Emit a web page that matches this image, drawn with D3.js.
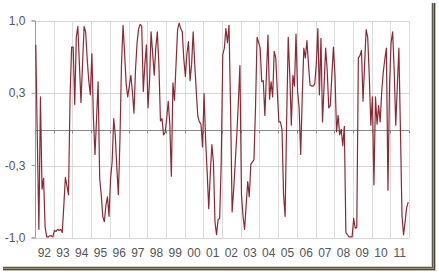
<!DOCTYPE html>
<html>
<head>
<meta charset="utf-8">
<script src="https://cdn.jsdelivr.net/npm/d3@7"></script>
<style>
  body { margin: 0; background: #fff; }
  svg { display: block; font-family: "Liberation Sans", Arial, sans-serif; }
</style>
</head>
<body>
<div id="vis"></div>
<script>
const WIDTH = 439;
const HEIGHT = 276;

const MARGIN = { top: 21, bottom: 38, left: 35, right: 30 };

// etiquetas de años (eje x, una categoría por año)
const yearLabels = ["92", "93", "94", "95", "96", "97", "98", "99", "00", "01",
  "02", "03", "04", "05", "06", "07", "08", "09", "10", "11"];

// ticks del eje y
const yTickValues = [-1, -1 / 3, 1 / 3, 1];
const yTickLabels = ["-1,0", "-0,3", "0,3", "1,0"];

// serie mensual 1992-2011
const values = [
  0.78, -0.10, -0.92, 0.30, -0.55, -0.45, -0.90, -0.99, -0.99, -0.98, -0.98, -0.99,
  -0.93, -0.94, -0.92, -0.93, -0.92, -0.95, -0.70, -0.44, -0.52, -0.60, 0.30, 0.76,
  0.76, 0.23, 0.85, 0.95, 0.60, 0.25, 0.60, 0.95, 0.90, 0.65, 0.45, 0.32,
  0.70, 0.10, -0.23, 0.10, 0.44, -0.45, -0.60, -0.80, -0.85, -0.70, -0.62, -0.80,
  -0.45, -0.30, 0.10, -0.05, -0.35, -0.60, -0.10, 0.60, 0.96, 0.70, 0.42, 0.30,
  0.40, 0.50, 0.35, 0.15, 0.55, 0.80, 0.93, 0.97, 0.95, 0.35, 0.60, 0.78,
  0.20, 0.45, 0.90, 0.70, 0.50, 0.75, 0.90, 0.60, 0.08, 0.10, -0.05, -0.03,
  0.10, 0.26, 0.05, -0.43, 0.43, 0.27, 0.60, 0.92, 0.98, 0.93, 0.90, 0.65,
  0.49, 0.70, 0.81, 0.45, 0.60, 0.90, 0.60, 0.35, 0.12, 0.07, 0.05, -0.16,
  0.33, -0.10, -0.40, -0.73, -0.40, -0.14, -0.30, -0.85, -0.97, -0.83, -0.82, -0.30,
  0.69, 0.75, 0.93, 0.80, 0.96, 0.20, -0.76, -0.55, -0.30, -0.05, 0.25, 0.59,
  -0.60, -0.80, -0.92, -0.70, -0.48, -0.62, -0.32, -0.30, -0.28, 0.20, 0.85, 0.80,
  0.75, 0.44, 0.45, 0.13, 0.50, 0.87, 0.28, 0.44, 0.30, 0.72, 0.66, 0.35,
  0.07, 0.07, 0.00, -0.60, -0.80, 0.10, 0.85, 0.50, 0.04, 0.50, 0.40, 0.88,
  0.35, 0.20, -0.23, 0.30, 0.75, 0.66, 0.82, 0.60, 0.41, 0.40, 0.40, 0.42,
  0.60, 0.93, 0.32, 0.84, 0.07, 0.40, 0.75, 0.55, 0.20, 0.22, 0.50, 0.76,
  0.50, -0.02, 0.13, -0.05, 0.00, -0.15, 0.03, -0.95, -0.97, -0.99, -0.99, -0.99,
  -0.82, -0.91, -0.90, 0.66, 0.68, 0.73, 0.26, 0.60, 0.92, 0.85, 0.50, 0.04,
  0.30, -0.51, 0.30, 0.05, 0.22, 0.07, 0.35, 0.53, 0.65, 0.75, -0.56, 0.40,
  0.80, 0.90, 0.55, 0.04, 0.40, 0.75, 0.00, -0.79, -0.97, -0.85, -0.72, -0.67
];

const SVG = d3.select("#vis").append("svg")
  .attr("width", WIDTH)
  .attr("height", HEIGHT);

const xScale = d3.scaleLinear()
  .domain([0, yearLabels.length * 12])
  .range([MARGIN.left, WIDTH - MARGIN.right]);

const yScale = d3.scaleLinear()
  .domain([-1, 1])
  .range([HEIGHT - MARGIN.bottom, MARGIN.top]);

// sombra del marco (abajo y derecha)
const frame = SVG.append("g");
const frameColors = ["#d8d2c4", "#5f5848", "#9a927e", "#4c4636", "#c4bcaa"];
frameColors.forEach((c, i) => {
  frame.append("line")
    .attr("x1", 3).attr("x2", 432 + i)
    .attr("y1", 266.5 + i).attr("y2", 266.5 + i)
    .attr("stroke", c);
  frame.append("line")
    .attr("x1", 431.5 + i).attr("x2", 431.5 + i)
    .attr("y1", 3).attr("y2", 267 + i)
    .attr("stroke", c);
});

// grilla vertical
const xGridValues = d3.range(0, yearLabels.length + 1).map(k => k * 12);
SVG.append("g")
  .selectAll("line")
  .data(xGridValues.slice(1))
  .join("line")
  .attr("x1", d => Math.round(xScale(d)) + 0.5)
  .attr("x2", d => Math.round(xScale(d)) + 0.5)
  .attr("y1", yScale(1))
  .attr("y2", yScale(-1))
  .attr("stroke", "#dcdcdc");

// grilla horizontal
SVG.append("g")
  .selectAll("line")
  .data(yTickValues)
  .join("line")
  .attr("x1", xScale(0))
  .attr("x2", xScale(240))
  .attr("y1", d => Math.round(yScale(d)) + 0.5)
  .attr("y2", d => Math.round(yScale(d)) + 0.5)
  .attr("stroke", "#d6d6d6");

// eje y
const ejeY = SVG.append("g")
  .attr("transform", `translate(${Math.round(xScale(0)) + 0.5}, 0)`)
  .call(d3.axisLeft(yScale)
    .tickValues(yTickValues)
    .tickFormat((d, i) => yTickLabels[i])
    .tickSize(4)
    .tickPadding(6)
    .offset(0));
ejeY.select(".domain").attr("stroke", "#9a9a9a");
ejeY.selectAll(".tick line").attr("stroke", "#9a9a9a");
ejeY.selectAll("text")
  .attr("fill", "#555")
  .attr("font-size", 12)
  .attr("font-family", "Liberation Sans, Arial, sans-serif");

// línea del cero con marcas por año
const y0 = Math.round(yScale(0)) + 0.5;
SVG.append("line")
  .attr("x1", xScale(0))
  .attr("x2", xScale(240))
  .attr("y1", y0)
  .attr("y2", y0)
  .attr("stroke", "#8a8a8a");
SVG.append("g")
  .selectAll("line")
  .data(xGridValues)
  .join("line")
  .attr("x1", d => Math.round(xScale(d)) + 0.5)
  .attr("x2", d => Math.round(xScale(d)) + 0.5)
  .attr("y1", y0)
  .attr("y2", y0 + 3)
  .attr("stroke", "#8a8a8a");

// etiquetas de años
SVG.append("g")
  .selectAll("text")
  .data(yearLabels)
  .join("text")
  .attr("x", (d, i) => xScale(i * 12 + 6))
  .attr("y", yScale(-1) + 19)
  .attr("text-anchor", "middle")
  .attr("font-size", 12)
  .attr("fill", "#555")
  .text(d => d);

// serie
const line = d3.line()
  .x((d, i) => xScale(i + 0.5))
  .y(d => yScale(d));

SVG.append("path")
  .datum(values)
  .attr("d", line)
  .attr("fill", "none")
  .attr("stroke", "#8a2a35")
  .attr("stroke-width", 1.2)
  .attr("stroke-linejoin", "round");
</script>
</body>
</html>
